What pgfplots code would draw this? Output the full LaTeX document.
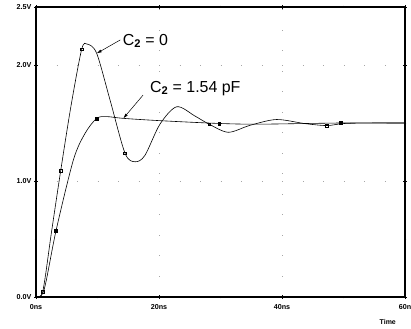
\documentclass[border=0pt]{standalone}
\usepackage{fontspec}
\setmainfont{Liberation Sans}
\usepackage{pgfplots}
\pgfplotsset{compat=1.18}
\usetikzlibrary{arrows.meta}
\begin{document}
\begin{tikzpicture}[x=1bp,y=1bp]
\path[use as bounding box] (-36,-32) rectangle (375,297);
\begin{axis}[
  at={(0,0)}, anchor=south west,
  width=369bp, height=290bp, scale only axis,
  xmin=0, xmax=60, ymin=0, ymax=2.5,
  axis line style={line width=1.1pt},
  xtick={0,20,40,60}, xticklabels={0ns,20ns,40ns,60n},
  ytick={0,1,2,2.5}, yticklabels={0.0V,1.0V,2.0V,2.5V},
  minor xtick={10,30,50}, minor ytick={0.5,1.5},
  tick align=center, major tick length=4pt, minor tick length=3pt,
  tick style={line width=0.8pt, black},
  ticklabel style={font=\fontsize{7.2}{8}\selectfont\bfseries},
  xticklabel style={yshift=-2pt},
  yticklabel style={xshift=1pt},
  /pgf/number format/assume math mode=true,
  grid=major,
  major grid style={gray!70, dash pattern=on 0.6pt off 20pt},
  clip=false,
]
% C2 = 0 curve
\addplot[black, line width=0.6pt, smooth, tension=0.5] coordinates {
 (0,0) (1.09,0.046) (2.52,0.56) (4.02,1.09) (5.7,1.65) (7.43,2.135) (8.34,2.18)
 (9.87,2.10) (12.03,1.70) (14.47,1.24) (16.1,1.166) (17.7,1.22) (20.16,1.49)
 (22.88,1.64) (25.85,1.56) (28.18,1.489) (31.27,1.42) (34.8,1.48) (39.1,1.53)
 (43.7,1.495) (47.3,1.478) (50.2,1.496) (55.9,1.5) (60,1.5)
};
% C2 = 1.54 pF curve
\addplot[black, line width=0.6pt, smooth, tension=0.5] coordinates {
 (0,0) (1.3,0.06) (3.25,0.57) (6.07,1.18) (7.97,1.41) (9.87,1.54) (11.5,1.555)
 (14.2,1.54) (20.2,1.52) (29.8,1.496) (36.4,1.49) (49.6,1.5) (60,1.5)
};
% markers C2 = 0
\addplot[only marks, mark=square, mark size=1.4pt, mark options={fill=white, line width=0.5pt}] coordinates {
 (1.09,0.046) (4.02,1.09) (7.43,2.135) (14.47,1.24) (28.18,1.489) (47.3,1.478)
};
% markers C2 = 1.54 pF
\addplot[only marks, mark=square*, mark size=1.4pt, mark options={fill=black}] coordinates {
 (3.25,0.57) (9.87,1.54) (29.8,1.496) (49.6,1.5)
};
% annotations
\node[font=\fontsize{16}{18}\selectfont] at (axis cs:17.8,2.207) {C$_{\mathbf 2}$ = 0};
\draw[-{Latex[length=5pt,width=3pt]}, line width=0.5pt] (axis cs:13.7,2.216) -- (axis cs:9.87,2.10);
\node[font=\fontsize{16}{18}\selectfont] at (axis cs:25.9,1.80) {C$_{\mathbf 2}$ = 1.54 pF};
\draw[-{Latex[length=5pt,width=3pt]}, line width=0.5pt] (axis cs:17.4,1.74) -- (axis cs:14.2,1.54);
\node[font=\fontsize{7}{8}\selectfont\bfseries] at (axis cs:57.2,-0.216) {Time};
\end{axis}
\end{tikzpicture}
\end{document}
